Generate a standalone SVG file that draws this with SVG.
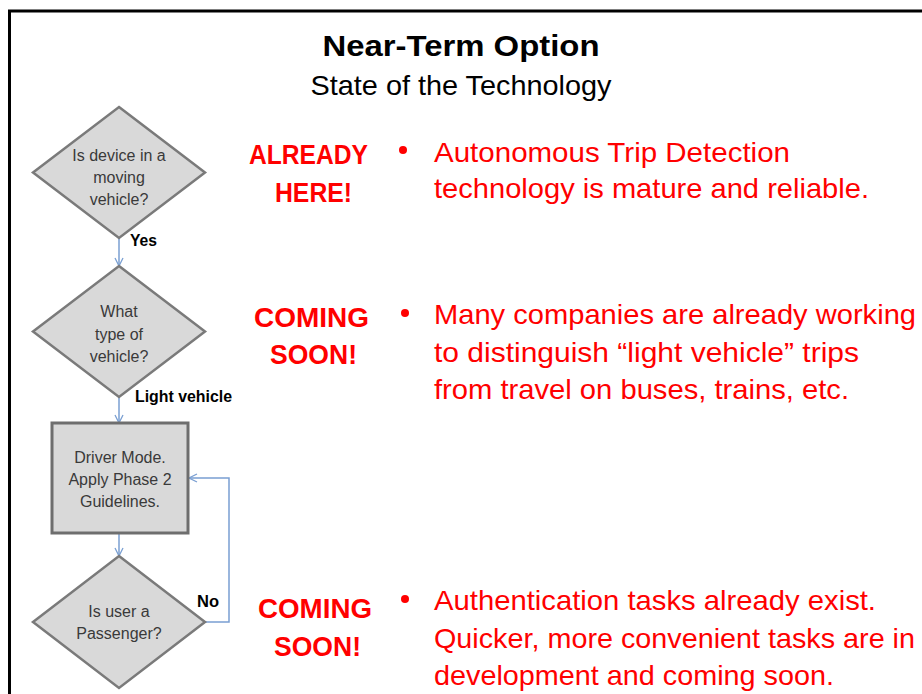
<svg xmlns="http://www.w3.org/2000/svg" width="922" height="694" viewBox="0 0 922 694">
  <defs>
    <marker id="open-arrow" viewBox="0 0 10 10" refX="9" refY="5" markerWidth="10" markerHeight="10" markerUnits="userSpaceOnUse" orient="auto">
      <path d="M1,1 L9,5 L1,9" fill="none" stroke="#7a9fd2" stroke-width="1.3"/>
    </marker>
    <style>
      .decision { fill: #d9d9d9; stroke: #7a7a7a; stroke-width: 2.5; stroke-linejoin: miter; }
      .process { fill: #d9d9d9; stroke: #6e6e6e; stroke-width: 3; }
      .node-text { font-family: "Liberation Sans", Arial, sans-serif; font-size: 16px; fill: #3a3a3a; text-anchor: middle; }
      .edge { fill: none; stroke: #7a9fd2; stroke-width: 1.5; marker-end: url(#open-arrow); }
      .edge-label { font-family: "Liberation Sans", Arial, sans-serif; font-size: 16px; font-weight: bold; fill: #000; }
      .status { font-family: "Liberation Sans", Arial, sans-serif; font-size: 27px; font-weight: bold; fill: #ff0000; }
      .note { font-family: "Liberation Sans", Arial, sans-serif; font-size: 28px; fill: #ff0000; }
      .title { font-family: "Liberation Sans", Arial, sans-serif; fill: #000; text-anchor: middle; }
    </style>
  </defs>

  <rect x="0" y="0" width="922" height="694" fill="#ffffff"/>

  <!-- slide frame (runs off the right and bottom edges) -->
  <path d="M9.5,700 V11 H930" fill="none" stroke="#000" stroke-width="3"/>

  <!-- heading -->
  <g id="heading">
    <text class="title" x="461" y="56" font-size="30" font-weight="bold" textLength="277" lengthAdjust="spacingAndGlyphs">Near-Term Option</text>
    <text class="title" x="461" y="95" font-size="28" textLength="301" lengthAdjust="spacingAndGlyphs">State of the Technology</text>
  </g>

  <!-- connectors -->
  <g id="connectors">
    <path class="edge" d="M119,238 V266"/>
    <path class="edge" d="M119,397 V423"/>
    <path class="edge" d="M119,533 V556"/>
    <path class="edge" d="M205,622 H229 V478 H189"/>
    <text class="edge-label" x="130" y="246" textLength="27" lengthAdjust="spacingAndGlyphs">Yes</text>
    <text class="edge-label" x="135" y="402" textLength="97" lengthAdjust="spacingAndGlyphs">Light vehicle</text>
    <text class="edge-label" x="197" y="607" textLength="22" lengthAdjust="spacingAndGlyphs">No</text>
  </g>

  <!-- flowchart nodes -->
  <g id="node-moving">
    <polygon class="decision" points="119,107 205,172.5 119,238 33,172.5"/>
    <text class="node-text" x="119" y="161">Is device in a</text>
    <text class="node-text" x="119" y="183">moving</text>
    <text class="node-text" x="119" y="205">vehicle?</text>
  </g>

  <g id="node-type">
    <polygon class="decision" points="119,266 205,331.5 119,397 33,331.5"/>
    <text class="node-text" x="119" y="317">What</text>
    <text class="node-text" x="119" y="340">type of</text>
    <text class="node-text" x="119" y="362">vehicle?</text>
  </g>

  <g id="node-driver">
    <rect class="process" x="52" y="423" width="136" height="110"/>
    <text class="node-text" x="120" y="463">Driver Mode.</text>
    <text class="node-text" x="120" y="485">Apply Phase 2</text>
    <text class="node-text" x="120" y="507">Guidelines.</text>
  </g>

  <g id="node-passenger">
    <polygon class="decision" points="119,556 205,622 119,688 33,622"/>
    <text class="node-text" x="119" y="617">Is user a</text>
    <text class="node-text" x="119" y="639">Passenger?</text>
  </g>

  <!-- status notes -->
  <g id="status-trip">
    <text class="status" x="249" y="164" textLength="119" lengthAdjust="spacingAndGlyphs">ALREADY</text>
    <text class="status" x="275" y="202" textLength="77" lengthAdjust="spacingAndGlyphs">HERE!</text>
    <circle cx="403" cy="150" r="4" fill="#ff0000"/>
    <text class="note" x="434" y="162" textLength="356" lengthAdjust="spacingAndGlyphs">Autonomous Trip Detection</text>
    <text class="note" x="434" y="198" textLength="435" lengthAdjust="spacingAndGlyphs">technology is mature and reliable.</text>
  </g>

  <g id="status-vehicle">
    <text class="status" x="254" y="327" textLength="115" lengthAdjust="spacingAndGlyphs">COMING</text>
    <text class="status" x="270" y="364" textLength="87" lengthAdjust="spacingAndGlyphs">SOON!</text>
    <circle cx="405" cy="313" r="4" fill="#ff0000"/>
    <text class="note" x="434" y="324" textLength="482" lengthAdjust="spacingAndGlyphs">Many companies are already working</text>
    <text class="note" x="434" y="362" textLength="425" lengthAdjust="spacingAndGlyphs">to distinguish “light vehicle” trips</text>
    <text class="note" x="434" y="399" textLength="415" lengthAdjust="spacingAndGlyphs">from travel on buses, trains, etc.</text>
  </g>

  <g id="status-passenger">
    <text class="status" x="258" y="618" textLength="114" lengthAdjust="spacingAndGlyphs">COMING</text>
    <text class="status" x="274" y="656" textLength="87" lengthAdjust="spacingAndGlyphs">SOON!</text>
    <circle cx="405" cy="599" r="4" fill="#ff0000"/>
    <text class="note" x="434" y="610" textLength="442" lengthAdjust="spacingAndGlyphs">Authentication tasks already exist.</text>
    <text class="note" x="434" y="648" textLength="481" lengthAdjust="spacingAndGlyphs">Quicker, more convenient tasks are in</text>
    <text class="note" x="434" y="685" textLength="400" lengthAdjust="spacingAndGlyphs">development and coming soon.</text>
  </g>
</svg>
